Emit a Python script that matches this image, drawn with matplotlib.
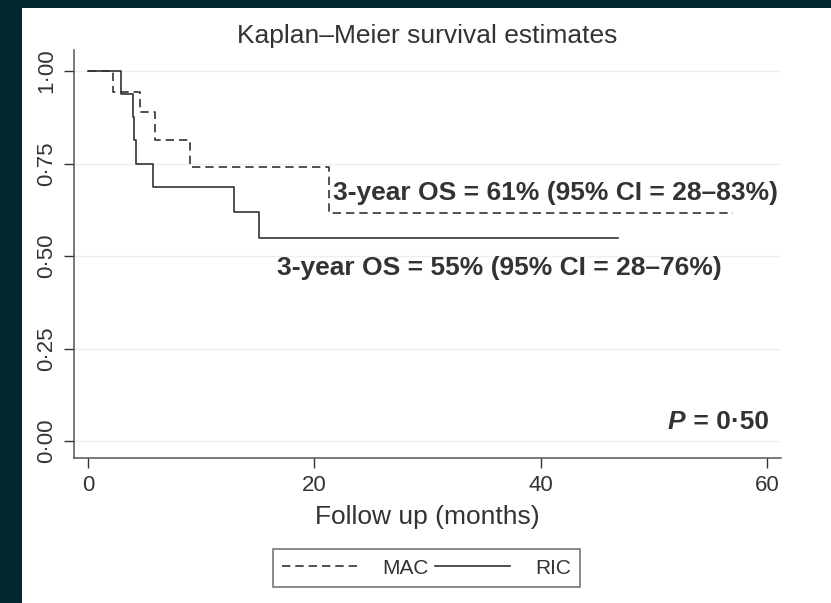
import matplotlib
matplotlib.use("Agg")
import matplotlib.pyplot as plt
from matplotlib.patches import Rectangle

plt.rcParams['font.family'] = ['Liberation Sans', 'DejaVu Sans']

# step data (months, survival)
mac_t = [0, 2.24, 4.6, 5.93, 8.97, 21.3, 57.0]
mac_s = [1.0, 0.944, 0.889, 0.815, 0.741, 0.617, 0.617]
ric_t = [0, 2.9, 3.95, 4.07, 4.25, 5.7, 12.9, 15.1, 46.8]
ric_s = [1.0, 0.9375, 0.875, 0.8125, 0.75, 0.6875, 0.619, 0.55, 0.55]

yticks = [0, 0.25, 0.5, 0.75, 1.0]
ylabels = ["0·00", "0·25", "0·50", "0·75", "1·00"]
xticks = [0, 20, 40, 60]

mac_note = "3-year OS = 61% (95% CI = 28–83%)"
ric_note = "3-year OS = 55% (95% CI = 28–76%)"

ink = "#333333"

fig = plt.figure(figsize=(8.31, 6.03), dpi=100)
fig.patch.set_facecolor("#04262f")
# white panel
fig.add_artist(Rectangle((22/831, 0), 1 - 22/831, 1 - 8/603,
                         transform=fig.transFigure, facecolor="white",
                         edgecolor="none", zorder=0))

ax = fig.add_axes([74/831, (603-458)/603, (781-74)/831, (458-50)/603])
ax.set_facecolor("white")
ax.set_xlim(-1.24, 61.2)
ax.set_ylim(-0.046, 1.057)

for y in yticks:
    ax.axhline(y, color="#eeeeee", lw=1.0, zorder=0)

ax.step(mac_t, mac_s, where="post", color=ink, lw=1.2, dashes=(5, 3), label="MAC")
ax.step(ric_t, ric_s, where="post", color=ink, lw=1.2, label="RIC")

ax.text(21.65, 0.67, mac_note, fontsize=19, fontweight="bold", color=ink, va="center")
ax.text(16.7, 0.468, ric_note, fontsize=19, fontweight="bold", color=ink, va="center")
eq = ax.text(60.1, 0.051, " = 0·50", fontsize=19, fontweight="bold",
             color=ink, ha="right", va="center")
ax.annotate("P", xy=(0, 0.5), xycoords=eq, fontsize=19, fontweight="bold",
            fontstyle="italic", color=ink, ha="right", va="center")

ax.set_xticks(xticks)
ax.set_yticks(yticks)
ax.set_yticklabels(ylabels, rotation=90, va="center")
ax.tick_params(colors=ink, labelsize=16, length=7, width=1, pad=5)
for s in ["top", "right"]:
    ax.spines[s].set_visible(False)
for s in ["left", "bottom"]:
    ax.spines[s].set_color("#555555")
    ax.spines[s].set_linewidth(1.1)

ax.set_xlabel("Follow up (months)", fontsize=19, color=ink, labelpad=7)
ax.set_title("Kaplan–Meier survival estimates", fontsize=19, color=ink, pad=5)

leg = ax.legend(loc="center", bbox_to_anchor=(426.5/831, 1 - 568/603),
                bbox_transform=fig.transFigure, ncol=2, fontsize=15,
                frameon=True, fancybox=False, handlelength=3.6,
                handletextpad=1.2, columnspacing=0.3, borderpad=0.45)
leg.get_frame().set_edgecolor("#444444")
leg.get_frame().set_linewidth(1.1)
for t in leg.get_texts():
    t.set_color(ink)

fig.savefig("out.png", dpi=100, facecolor=fig.get_facecolor())
